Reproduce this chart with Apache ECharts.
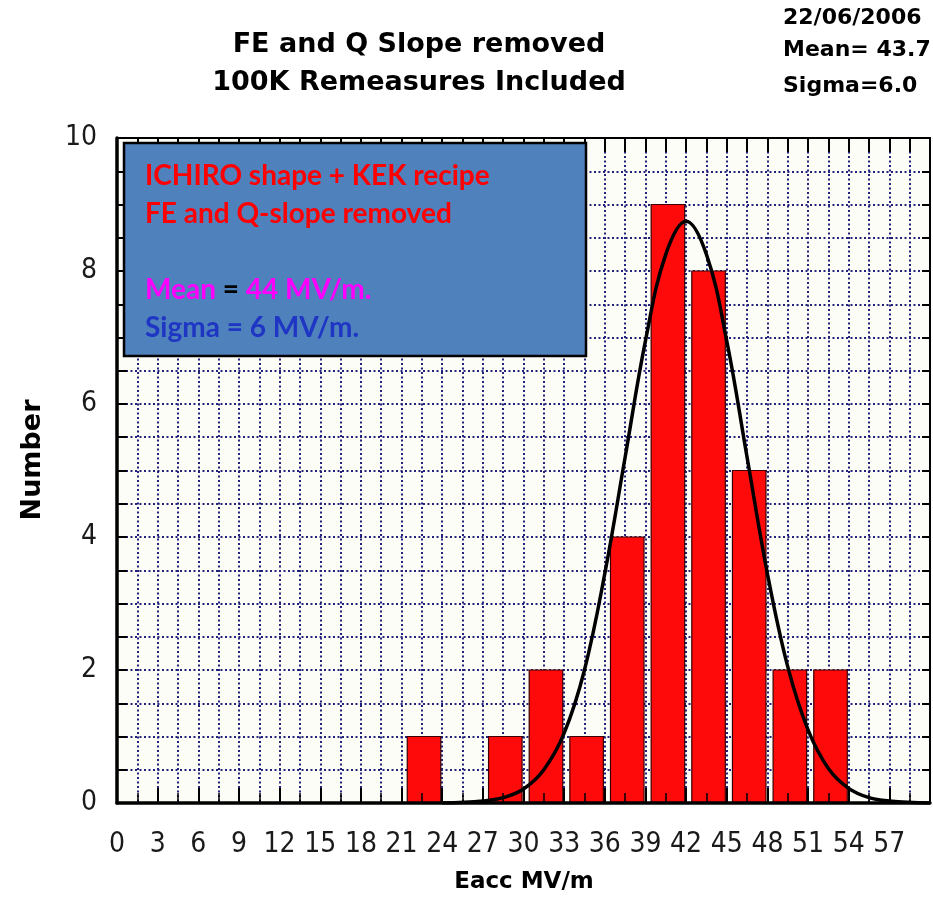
<!DOCTYPE html>
<html>
<head>
<meta charset="utf-8">
<title>Eacc distribution</title>
<script src="https://cdn.jsdelivr.net/npm/echarts@6/dist/echarts.min.js"></script>
<style>
  html, body { margin: 0; padding: 0; background: #ffffff; }
  #chart { width: 933px; height: 897px; }
</style>
</head>
<body>
<div id="chart"></div>
<script>
// Histogram bins of accelerating gradient (MV/m): lower edge of each bin and cavity count
const binStarts = [21, 27, 30, 33, 36, 39, 42, 45, 48, 51];
const binWidth = 3;
const counts = [1, 1, 2, 1, 4, 9, 8, 5, 2, 2];

// Fitted distribution curve, sampled along Eacc
const curveX = [24, 27, 28.5, 30, 31.5, 33, 34.5, 36, 37.5, 39, 40.5, 42, 43.5, 45, 46.5, 48, 49.5, 51, 52.5, 54, 55.5, 57, 60];
const curveY = [0, 0.03, 0.08, 0.21, 0.5, 1.05, 2.0, 3.45, 5.2, 6.95, 8.25, 8.75, 8.25, 6.95, 5.2, 3.45, 2.05, 1.1, 0.52, 0.22, 0.08, 0.03, 0];

// Axis tick labels
const xTickLabels = [0, 3, 6, 9, 12, 15, 18, 21, 24, 27, 30, 33, 36, 39, 42, 45, 48, 51, 54, 57];
const yTickLabels = [0, 2, 4, 6, 8, 10];

const chart = echarts.init(document.getElementById('chart'), null, { renderer: 'canvas' });

const tickFont = "'Liberation Sans Narrow', 'Arial Narrow', 'DejaVu Sans Condensed', 'Liberation Sans', sans-serif";
const dotted = { color: '#22227a', width: 2, type: [2, 2.5] };

const histData = binStarts.map((s, i) => [s, counts[i]]);
const curveData = curveX.map((x, i) => [x, curveY[i]]);

const option = {
  animation: false,
  backgroundColor: '#ffffff',
  grid: {
    left: 117, right: 3, top: 138, bottom: 94,
    show: true, backgroundColor: '#fdfdf8', borderWidth: 0
  },
  xAxis: [
    { // dotted grid
      type: 'value', min: 0, max: 60, interval: 1.5, position: 'bottom',
      axisLine: { show: false, onZero: false }, axisTick: { show: false }, axisLabel: { show: false },
      splitLine: { show: true, lineStyle: dotted }
    },
    { // bottom frame with ticks and labels
      type: 'value', min: 0, max: 60, interval: 3, position: 'bottom', z: 10,
      axisLine: { show: true, onZero: false, lineStyle: { color: '#000', width: 3.5 } },
      axisTick: { show: true, inside: true, length: 15, lineStyle: { color: '#000', width: 2 } },
      minorTick: { show: true, splitNumber: 2, length: 10, lineStyle: { color: '#000', width: 1.5 } },
      axisLabel: {
        margin: 28, fontFamily: tickFont, fontSize: 28, color: '#1a1a1a',
        formatter: v => (xTickLabels.indexOf(v) >= 0 ? String(v) : '')
      },
      splitLine: { show: false }
    },
    { // top frame
      type: 'value', min: 0, max: 60, interval: 1.5, position: 'top', z: 10,
      axisLine: { show: true, onZero: false, lineStyle: { color: '#000', width: 2 } },
      axisTick: { show: true, inside: true, length: 14, lineStyle: { color: '#000', width: 2 } },
      axisLabel: { show: false }, splitLine: { show: false }
    }
  ],
  yAxis: [
    { // dotted grid
      type: 'value', min: 0, max: 10, interval: 0.5, position: 'left',
      axisLine: { show: false, onZero: false }, axisTick: { show: false }, axisLabel: { show: false },
      splitLine: { show: true, lineStyle: dotted }
    },
    { // left frame with ticks and labels
      type: 'value', min: 0, max: 10, interval: 0.5, position: 'left', z: 10,
      axisLine: { show: true, onZero: false, lineStyle: { color: '#000', width: 3.5 } },
      axisTick: { show: true, inside: true, length: 10, lineStyle: { color: '#000', width: 2 } },
      axisLabel: {
        margin: 20, fontFamily: tickFont, fontSize: 28, color: '#1a1a1a',
        formatter: v => (yTickLabels.indexOf(v) >= 0 ? String(v) : '')
      },
      splitLine: { show: false }
    },
    { // right frame
      type: 'value', min: 0, max: 10, interval: 0.5, position: 'right', z: 10,
      axisLine: { show: true, onZero: false, lineStyle: { color: '#000', width: 2 } },
      axisTick: { show: true, inside: true, length: 8, lineStyle: { color: '#000', width: 2 } },
      axisLabel: { show: false }, splitLine: { show: false }
    }
  ],
  series: [
    {
      name: 'Number',
      type: 'custom',
      xAxisIndex: 0, yAxisIndex: 0,
      z: 2,
      data: histData,
      encode: { x: 0, y: 1 },
      renderItem: function (params, api) {
        const start = api.value(0);
        const n = api.value(1);
        const p0 = api.coord([start, 0]);
        const p1 = api.coord([start + binWidth, n]);
        const span = p1[0] - p0[0];
        const left = p0[0] + span * 0.14;
        const right = p0[0] + span * 0.965;
        return {
          type: 'rect',
          shape: { x: left, y: p1[1], width: right - left, height: p0[1] - p1[1] },
          style: { fill: '#ff0a0a', stroke: '#3a0000', lineWidth: 1.2 }
        };
      }
    },
    {
      name: 'Fit',
      type: 'line',
      xAxisIndex: 0, yAxisIndex: 0,
      z: 5,
      data: curveData,
      smooth: 0.4,
      showSymbol: false,
      symbol: 'none',
      lineStyle: { color: '#000000', width: 3.5 }
    }
  ],
  graphic: [
    {
      type: 'text', x: 419, y: 45, z: 50,
      style: { text: 'FE and Q Slope removed', font: 'bold 27px "DejaVu Sans"', fill: '#000', align: 'center', verticalAlign: 'middle' }
    },
    {
      type: 'text', x: 419, y: 83, z: 50,
      style: { text: '100K Remeasures Included', font: 'bold 27px "DejaVu Sans"', fill: '#000', align: 'center', verticalAlign: 'middle' }
    },
    {
      type: 'text', x: 783, y: 18, z: 50,
      style: { text: '22/06/2006', font: 'bold 22px "DejaVu Sans"', fill: '#000', align: 'left', verticalAlign: 'middle' }
    },
    {
      type: 'text', x: 783, y: 50, z: 50,
      style: { text: 'Mean= 43.7', font: 'bold 22px "DejaVu Sans"', fill: '#000', align: 'left', verticalAlign: 'middle' }
    },
    {
      type: 'text', x: 783, y: 86, z: 50,
      style: { text: 'Sigma=6.0', font: 'bold 22px "DejaVu Sans"', fill: '#000', align: 'left', verticalAlign: 'middle' }
    },
    {
      type: 'text', x: 33, y: 460, z: 50, rotation: Math.PI / 2,
      style: { text: 'Number', font: 'bold 27px "DejaVu Sans"', fill: '#000', align: 'center', verticalAlign: 'middle' }
    },
    {
      type: 'text', x: 524, y: 882, z: 50,
      style: { text: 'Eacc MV/m', font: 'bold 23px "DejaVu Sans"', fill: '#000', align: 'center', verticalAlign: 'middle' }
    },
    {
      type: 'rect', z: 100,
      shape: { x: 124, y: 143, width: 462, height: 213 },
      style: { fill: '#4f81bd', stroke: '#000', lineWidth: 2.5 }
    },
    {
      type: 'text', x: 145, y: 157, z: 101,
      style: {
        text: '{r|ICHIRO shape + KEK recipe}\n{r|FE and Q-slope removed}\n{r| }\n{m|Mean} {k|=} {m|44 MV/m.}\n{b|Sigma = 6 MV/m.}',
        font: 'bold 28px Lato',
        fill: '#000',
        lineHeight: 38,
        align: 'left',
        verticalAlign: 'top',
        rich: {
          r: { fill: '#ff0000', font: 'bold 28px Lato', lineHeight: 38 },
          m: { fill: '#ff00ff', font: 'bold 28px Lato', lineHeight: 38 },
          k: { fill: '#000000', font: 'bold 28px Lato', lineHeight: 38 },
          b: { fill: '#1f35c4', font: 'bold 28px Lato', lineHeight: 38 }
        }
      }
    }
  ]
};

chart.setOption(option);
</script>
</body>
</html>
